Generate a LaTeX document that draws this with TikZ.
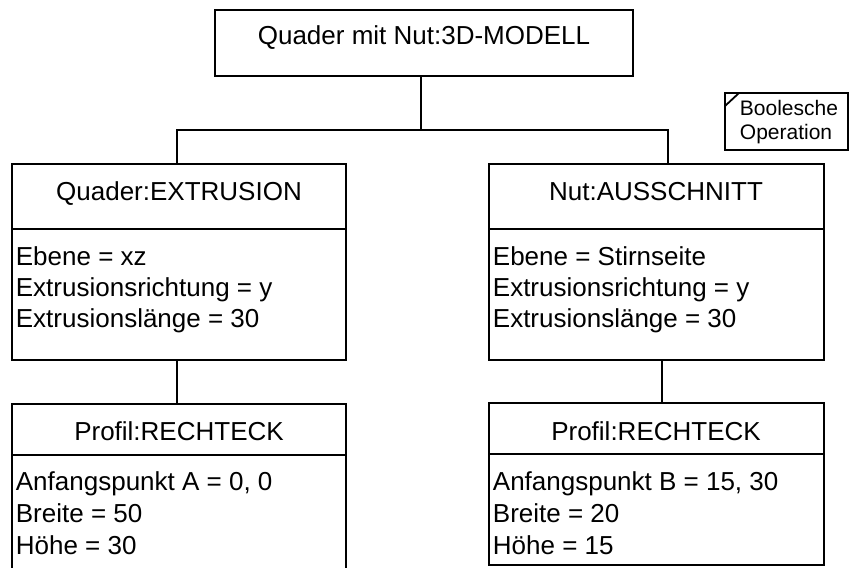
\documentclass[tikz,border=0pt]{standalone}
\usepackage{fontspec}
\setmainfont{Liberation Sans}
\begin{document}
\begin{tikzpicture}[x=1pt,y=-1pt,line width=1.8pt,
  box/.style={draw,rectangle,inner sep=0pt,outer sep=0pt,anchor=north west},
  lbl/.style={font=\fontsize{26}{30}\selectfont,inner sep=0pt},
  titletext/.style={lbl,anchor=base},
  attr/.style={lbl,anchor=base west},
  small/.style={font=\fontsize{21}{24}\selectfont,inner sep=0pt,anchor=base west}]
\useasboundingbox (0,0) rectangle (850,567);
% boxes
\node[box,minimum width=418pt,minimum height=66pt] (top) at (215,10) {};
\node[box,minimum width=334pt,minimum height=65pt] (ext) at (12,164) {};
\node[box,minimum width=334pt,minimum height=131pt] (extb) at (12,229) {};
\node[box,minimum width=335pt,minimum height=65pt] (nut) at (489,164) {};
\node[box,minimum width=335pt,minimum height=131pt] (nutb) at (489,229) {};
\node[box,minimum width=334pt,minimum height=51pt] (pa) at (12,404) {};
\node[box,minimum width=334pt,minimum height=130pt] (pab) at (12,455) {};
\node[box,minimum width=335pt,minimum height=51pt] (pb) at (489,403) {};
\node[box,minimum width=335pt,minimum height=111pt] (pbb) at (489,454) {};
\node[box,minimum width=123pt,minimum height=57pt] (bool) at (725,93) {};
\draw (bool.north west) ++(0,13) coordinate (bd1) -- ++(14,-13) coordinate (bd2);
% connectors
\coordinate (jT) at (421,130);
\coordinate (jL) at (177,130);
\coordinate (jR) at (668,130);
\coordinate (xB) at (662,0);
\draw (top.south -| jT) -- (jT);
\draw (ext.north -| jL) -- (jL) -- (jR) -- (nut.north -| jR);
\draw (extb.south -| jL) -- (pa.north -| jL);
\draw (nutb.south -| xB) -- (pb.north -| xB);
% texts
\node[titletext] (t0) at (424,45) {Quader mit Nut:3D-MODELL};
\node[titletext] (t1) at (179,200) {Quader:EXTRUSION};
\node[titletext] (t2) at (656,200) {Nut:AUSSCHNITT};
\node[titletext] (t3) at (179,440) {Profil:RECHTECK};
\node[titletext] (t4) at (656,440) {Profil:RECHTECK};
\node[attr] (a1) at (15,265) {Ebene = xz};
\node[attr] (a2) at (15,296) {Extrusionsrichtung = y};
\node[attr] (a3) at (15,327) {Extrusionslänge = 30};
\node[attr] (b1) at (492,265) {Ebene = Stirnseite};
\node[attr] (b2) at (492,296) {Extrusionsrichtung = y};
\node[attr] (b3) at (492,327) {Extrusionslänge = 30};
\node[attr] (c1) at (15,490) {Anfangspunkt A = 0, 0};
\node[attr] (c2) at (15,522) {Breite = 50};
\node[attr] (c3) at (15,554) {Höhe = 30};
\node[attr] (d1) at (492,490) {Anfangspunkt B = 15, 30};
\node[attr] (d2) at (492,522) {Breite = 20};
\node[attr] (d3) at (492,554) {Höhe = 15};
\node[small] (s1) at (739,116) {Boolesche};
\node[small] (s2) at (739,139) {Operation};
\end{tikzpicture}
\end{document}
